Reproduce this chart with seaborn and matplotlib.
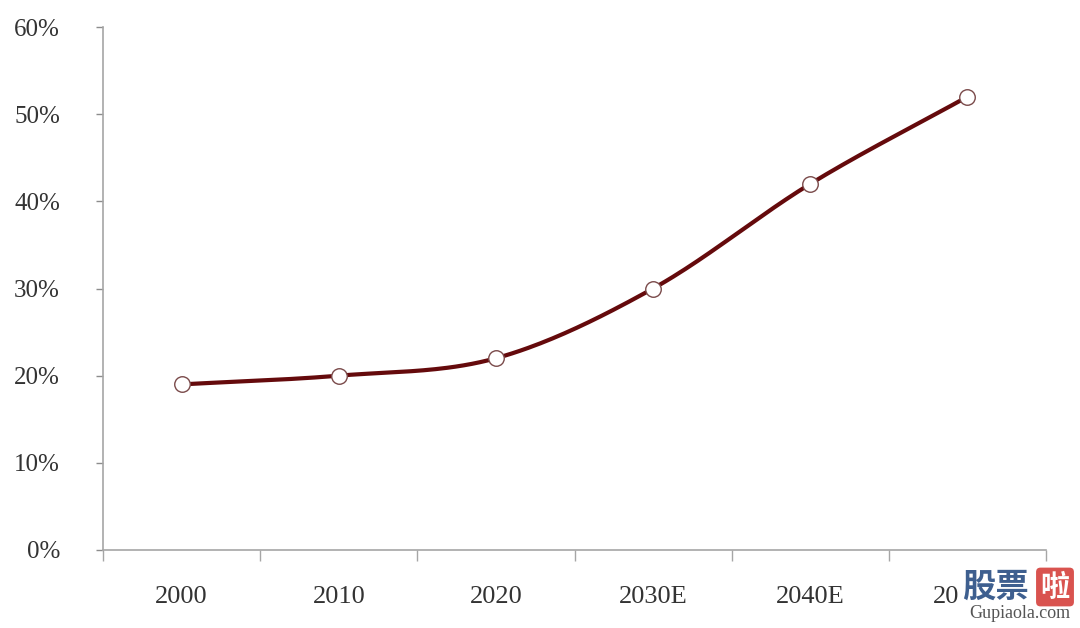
import numpy as np
import pandas as pd
import matplotlib
matplotlib.use("Agg")
import matplotlib.pyplot as plt
import seaborn as sns

categories = ["2000", "2010", "2020", "2030E", "2040E", "2050E"]
values = [19, 20, 22, 30, 42, 52]
y_ticks = [0, 10, 20, 30, 40, 50, 60]
y_labels = ["0%", "10%", "20%", "30%", "40%", "50%", "60%"]

sns.set_theme(style="white")
plt.rcParams['font.family'] = ['Liberation Serif', 'Noto Sans CJK SC', 'DejaVu Sans']

fig = plt.figure(figsize=(10.8, 6.28), dpi=100)
ax = fig.add_axes([103/1080, 78/628, (1046-103)/1080, (550-27)/628])

x = np.arange(len(categories), dtype=float)
y = np.array(values, dtype=float)

# Catmull-Rom smoothing (rendering style only)
def smooth(xp, yp, n=40):
    P = np.column_stack([xp, yp])
    P = np.vstack([P[0] - (P[1] - P[0]), P, P[-1] + (P[-1] - P[-2])])
    out = []
    for i in range(1, len(P) - 2):
        p0, p1, p2, p3 = P[i-1], P[i], P[i+1], P[i+2]
        t = np.linspace(0, 1, n)[:, None]
        seg = 0.5 * ((2*p1) + (-p0 + p2)*t + (2*p0 - 5*p1 + 4*p2 - p3)*t**2 + (-p0 + 3*p1 - 3*p2 + p3)*t**3)
        out.append(seg if i == 1 else seg[1:])
    return np.vstack(out)

curve = smooth(x, y)
df_curve = pd.DataFrame({"x": curve[:, 0], "y": curve[:, 1]})
df_pts = pd.DataFrame({"x": x, "y": y})

sns.lineplot(data=df_curve, x="x", y="y", ax=ax, color="#650a0c", linewidth=3.0, sort=False)
sns.scatterplot(data=df_pts, x="x", y="y", ax=ax, s=125, color="white", edgecolor="#7a4a4a", linewidth=1.0, zorder=5)

ax.set_xlim(-0.5, len(categories) - 0.5)
ax.set_ylim(0, 60)
ax.set_yticks(y_ticks)
ax.set_yticklabels(y_labels)
ax.set_xticks(np.arange(-0.5, len(categories), 1.0))
ax.set_xticklabels([])
ax.set_xticks(x, minor=True)
ax.set_xticklabels(categories, minor=True)
ax.set_xlabel("")
ax.set_ylabel("")

for s in ["top", "right"]:
    ax.spines[s].set_visible(False)
for s in ["left", "bottom"]:
    ax.spines[s].set_color("#a6a6a6")
    ax.spines[s].set_linewidth(1.2)

ax.tick_params(axis="y", which="major", direction="out", length=5, width=1.0, color="#8c8c8c",
               labelsize=18, labelcolor="#333333", pad=26, left=True)
ax.tick_params(axis="x", which="major", direction="out", length=8, width=1.0, color="#a6a6a6", bottom=True)
ax.tick_params(axis="x", which="minor", length=0, labelsize=19, labelcolor="#333333", pad=26)

# watermark
fig.text(995/1080, 1 - 587/628, "股票", family=['Noto Sans CJK SC'], fontsize=24, fontweight="bold",
         color="#3e5f8f", ha="center", va="center", zorder=10,
         bbox=dict(boxstyle="square,pad=0.05", fc="white", ec="none"))
fig.text(1055/1080, 1 - 587/628, "啦", family=['Noto Sans CJK SC'], fontsize=21, fontweight="bold",
         color="white", ha="center", va="center", zorder=10,
         bbox=dict(boxstyle="round,pad=0.15", fc="#d9534f", ec="none"))
fig.text(1020/1080, 1 - 614/628, "Gupiaola.com", fontsize=13, color="#555555", ha="center", va="center",
         family=['Liberation Serif'])

fig.savefig("out.png", dpi=100)
